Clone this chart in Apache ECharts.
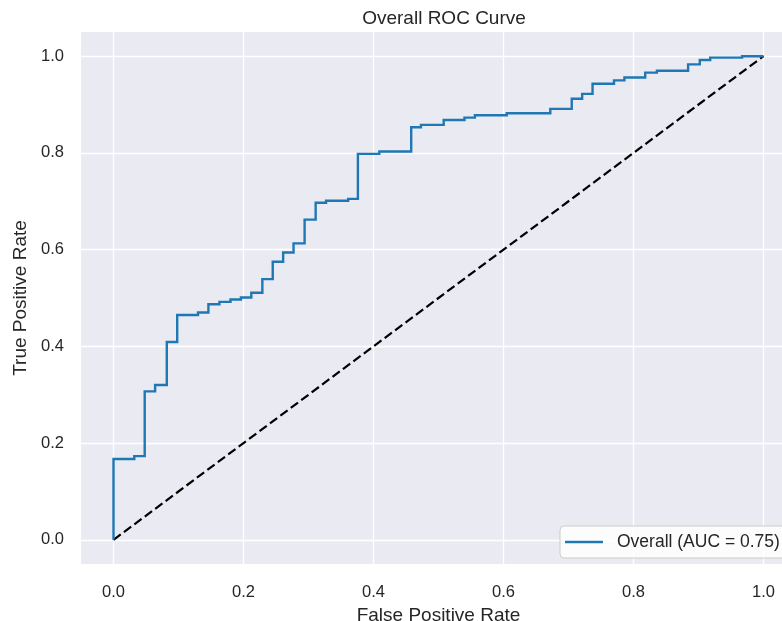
<!DOCTYPE html>
<html>
<head>
<meta charset="utf-8">
<script src="https://cdn.jsdelivr.net/npm/echarts@6/dist/echarts.min.js"></script>
<style>
  html, body { margin: 0; padding: 0; background: #ffffff; }
  #chart { width: 782px; height: 621px; }
</style>
</head>
<body>
<div id="chart"></div>
<script>
// ROC curve corner points
const fpr = [0, 0, 0.032, 0.048, 0.064, 0.082, 0.098, 0.130, 0.146, 0.163, 0.180, 0.196, 0.212, 0.229, 0.245,
  0.261, 0.277, 0.294, 0.311, 0.327, 0.361, 0.376, 0.409, 0.458, 0.473, 0.508, 0.540, 0.556, 0.605,
  0.672, 0.705, 0.721, 0.737, 0.770, 0.786, 0.818, 0.836, 0.884, 0.902, 0.918, 0.967, 1.0];
const tpr = [0, 0.167, 0.173, 0.307, 0.320, 0.409, 0.465, 0.470, 0.487, 0.492, 0.497, 0.501, 0.511, 0.539, 0.575,
  0.594, 0.613, 0.662, 0.697, 0.701, 0.705, 0.798, 0.803, 0.853, 0.858, 0.868, 0.873, 0.878, 0.882,
  0.891, 0.912, 0.922, 0.943, 0.950, 0.956, 0.966, 0.970, 0.983, 0.992, 0.997, 1.0, 1.0];
const chanceX = [0, 1];
const chanceY = [0, 1];
const tickValues = [0, 0.2, 0.4, 0.6, 0.8, 1.0];
const seriesName = 'Overall (AUC = 0.75)';
const titleText = 'Overall ROC Curve';
const xName = 'False Positive Rate';
const yName = 'True Positive Rate';

const font = '"Liberation Sans", Arial, sans-serif';
const textColor = '#262626';

const chart = echarts.init(document.getElementById('chart'), null, { renderer: 'canvas' });

// build a horizontal-then-vertical staircase through the ROC points
const curve = [];
fpr.forEach((x, i) => {
  if (i > 0) curve.push([x, tpr[i - 1]]);
  curve.push([x, tpr[i]]);
});
const chance = chanceX.map((x, i) => [x, chanceY[i]]);

chart.setOption({
  backgroundColor: '#ffffff',
  animation: false,
  title: {
    text: titleText,
    left: 439,
    textAlign: 'center',
    top: 4,
    textStyle: { fontFamily: font, fontSize: 19, fontWeight: 'normal', color: textColor }
  },
  grid: {
    left: 81, right: -14, top: 32, bottom: 57,
    outerBoundsMode: 'none',
    containLabel: false,
    show: true,
    backgroundColor: '#EAEAF2',
    borderWidth: 0
  },
  legend: {
    data: [seriesName],
    left: 560,
    top: 526,
    orient: 'horizontal',
    icon: 'rect',
    itemWidth: 38,
    itemHeight: 2.4,
    padding: [7, 12, 7, 5],
    backgroundColor: 'rgba(255,255,255,0.85)',
    borderColor: '#cccccc',
    borderWidth: 1,
    borderRadius: 4,
    itemStyle: { color: '#1f77b4', borderWidth: 0 },
    lineStyle: { width: 0 },
    textStyle: { fontFamily: font, fontSize: 17.5, color: textColor, padding: [0, 0, 0, 9] }
  },
  xAxis: {
    type: 'value',
    min: -0.05,
    max: 1.05,
    name: xName,
    nameLocation: 'middle',
    nameGap: 39,
    nameTextStyle: { fontFamily: font, fontSize: 19, color: textColor },
    axisLine: { show: false },
    axisTick: { show: false, customValues: tickValues },
    axisLabel: {
      customValues: tickValues,
      formatter: v => v.toFixed(1),
      fontFamily: font, fontSize: 16.5, color: textColor, margin: 20
    },
    splitLine: { show: true, lineStyle: { color: '#ffffff', width: 1.3 } }
  },
  yAxis: {
    type: 'value',
    min: -0.05,
    max: 1.05,
    name: yName,
    nameLocation: 'middle',
    nameGap: 49,
    nameTextStyle: { fontFamily: font, fontSize: 19, color: textColor },
    axisLine: { show: false },
    axisTick: { show: false, customValues: tickValues },
    axisLabel: {
      customValues: tickValues,
      formatter: v => v.toFixed(1),
      fontFamily: font, fontSize: 16.5, color: textColor, margin: 17
    },
    splitLine: { show: true, lineStyle: { color: '#ffffff', width: 1.3 } }
  },
  series: [
    {
      name: 'chance',
      type: 'lines',
      coordinateSystem: 'cartesian2d',
      polyline: true,
      data: [{ coords: chance }],
      lineStyle: { color: '#000000', width: 2.2, type: [9, 4], opacity: 1 },
      z: 2
    },
    {
      name: seriesName,
      type: 'lines',
      coordinateSystem: 'cartesian2d',
      polyline: true,
      data: [{ coords: curve }],
      lineStyle: { color: '#1f77b4', width: 2.4, opacity: 1 },
      itemStyle: { color: '#1f77b4' },
      z: 3
    }
  ]
});
</script>
</body>
</html>
